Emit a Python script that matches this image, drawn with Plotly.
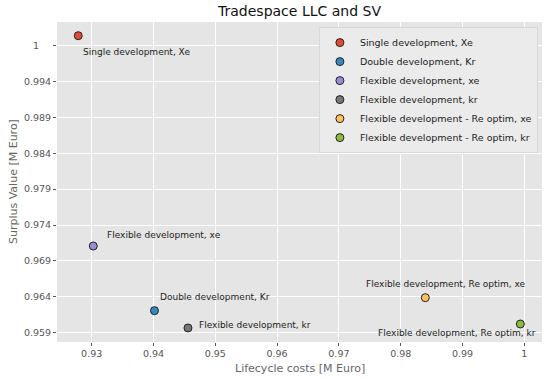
import plotly.graph_objects as go

names = ["Single development, Xe", "Double development, Kr", "Flexible development, xe",
         "Flexible development, kr", "Flexible development - Re optim, xe",
         "Flexible development - Re optim, kr"]
labels = ["Single development, Xe", "Double development, Kr", "Flexible development, xe",
          "Flexible development, kr", "Flexible development, Re optim, xe",
          "Flexible development, Re optim, kr"]
lcc = [0.92783, 0.94016, 0.93026, 0.94558, 0.98398, 0.99935]
sv = [1.00089, 0.96257, 0.97158, 0.96016, 0.96438, 0.96071]
colors = ["#E24A33", "#348ABD", "#988ED5", "#777777", "#FBC15E", "#8EBA42"]

x_ticks = [0.93, 0.94, 0.95, 0.96, 0.97, 0.98, 0.99, 1.0]
x_ticktext = ["0.93", "0.94", "0.95", "0.96", "0.97", "0.98", "0.99", "1"]
y_ticks = [0.9595, 0.9645, 0.9695, 0.9745, 0.9795, 0.9845, 0.9895, 0.9945, 0.9995]
y_ticktext = ["0.959", "0.964", "0.969", "0.974", "0.979", "0.984", "0.989", "0.994",
              "1\u00a0\u00a0\u00a0\u00a0"]

# label offsets (pixels) and anchors
offsets = [(3, 16, "left"), (4, -14, "left"), (12, -11, "left"),
           (9, -3, "left"), (21, -14, "center"), (-63, 9, "center")]

fig = go.Figure()
for i in range(len(names)):
    fig.add_trace(go.Scatter(
        x=[lcc[i]], y=[sv[i]], mode="markers", name=names[i],
        marker=dict(size=8, color=colors[i], line=dict(color="#222222", width=1)),
    ))
    dx, dy, anc = offsets[i]
    fig.add_annotation(x=lcc[i], y=sv[i], text=labels[i], showarrow=False,
                       xshift=dx, yshift=-dy, xanchor=anc, yanchor="middle",
                       font=dict(size=9, color="#222222", family="DejaVu Sans"))

# axis titles as annotations for precise placement
fig.add_annotation(x=0.5, y=-0.084, xref="paper", yref="paper", text="Lifecycle costs [M Euro]",
                   showarrow=False, xanchor="center", yanchor="middle",
                   font=dict(size=11, color="#666666"))
fig.add_annotation(x=-0.0907, y=0.5, xref="paper", yref="paper", text="Surplus Value [M Euro]",
                   showarrow=False, xanchor="center", yanchor="middle", textangle=-90,
                   font=dict(size=11, color="#666666"))

fig.update_layout(
    width=550, height=379,
    margin=dict(l=57, r=8, t=22, b=37),
    paper_bgcolor="white", plot_bgcolor="#E5E5E5",
    font=dict(family="DejaVu Sans", color="#555555", size=10),
    title=dict(text="Tradespace LLC and SV", xref="paper", x=0.5, xanchor="center",
               y=0.972, yanchor="middle", font=dict(size=14, color="#111111")),
    xaxis=dict(range=[0.92439, 1.00286], tickvals=x_ticks, ticktext=x_ticktext,
               showgrid=True, gridcolor="white", gridwidth=1, zeroline=False, automargin=False,
               ticks="outside", ticklen=3, tickcolor="#555555", tickfont=dict(size=9.5, color="#555555")),
    yaxis=dict(range=[0.95820, 1.00280], tickvals=y_ticks, ticktext=y_ticktext,
               showgrid=True, gridcolor="white", gridwidth=1, zeroline=False, automargin=False,
               ticks="outside", ticklen=3, tickcolor="#555555", tickfont=dict(size=9.5, color="#555555")),
    legend=dict(x=0.540, y=0.984, xanchor="left", yanchor="top",
                bgcolor="#EBEBEB", bordercolor="#D8D8D8", borderwidth=1,
                font=dict(size=9.5, color="#222222"), tracegroupgap=0),
    showlegend=True,
)

fig.write_html("out.html", config={"displayModeBar": False},
               post_script="document.body.style.margin='0';")
